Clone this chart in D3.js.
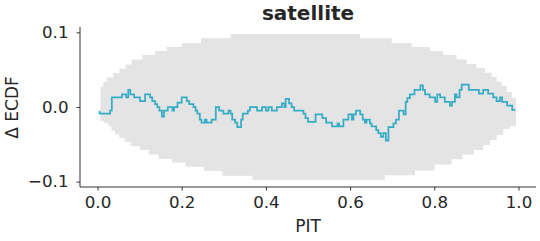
<!DOCTYPE html>
<html>
<head>
<meta charset="utf-8">
<script src="https://cdn.jsdelivr.net/npm/d3@7"></script>
<style>
  html, body { margin: 0; padding: 0; background: #ffffff; }
  svg { display: block; }
  text { font-family: "DejaVu Sans", sans-serif; fill: #262626; }
</style>
</head>
<body>
<div id="chart"></div>
<script>
// ---------------- data ----------------
const chartTitle = "satellite";
const xLabel = "PIT";
const yLabel = "Δ ECDF";

const pitTicks = [0, 0.2, 0.4, 0.6, 0.8, 1.0];
const pitTickLabels = ["0.0", "0.2", "0.4", "0.6", "0.8", "1.0"];
const diffTicks = [-0.1, 0, 0.1];
const diffTickLabels = ["\u22120.1", "0.0", "0.1"];

// simultaneous envelope (upper / lower), step-after
const upperPit = [0.0071,0.0138,0.0219,0.0375,0.0523,0.0665,0.0808,0.1069,0.1366,0.1644,0.2007,0.2458,0.3159,0.6235,0.6988,0.7463,0.7898,0.8214,0.8532,0.8770,0.9002,0.9204,0.9363,0.9482,0.9601,0.9720,0.9838,0.9941];
const upperDiff = [0.0270,0.0335,0.0395,0.0455,0.0515,0.0570,0.0636,0.0696,0.0750,0.0803,0.0857,0.0920,0.0977,0.0920,0.0857,0.0803,0.0750,0.0696,0.0636,0.0576,0.0518,0.0459,0.0402,0.0339,0.0281,0.0201,0.0120,0.0120];
const lowerPit = [0.0071,0.0162,0.0261,0.0333,0.0416,0.0518,0.0646,0.0796,0.1010,0.1216,0.1454,0.1770,0.2090,0.2523,0.2969,0.3682,0.6829,0.7542,0.8005,0.8409,0.8670,0.8943,0.9164,0.9323,0.9482,0.9639,0.9798,0.9941];
const lowerDiff = [-0.0187,-0.0214,-0.0261,-0.0315,-0.0365,-0.0415,-0.0465,-0.0525,-0.0576,-0.0636,-0.0692,-0.0743,-0.0799,-0.0857,-0.0920,-0.0977,-0.0913,-0.0850,-0.0770,-0.0700,-0.0636,-0.0576,-0.0509,-0.0442,-0.0375,-0.0295,-0.0254,-0.0254];

// observed PIT ECDF difference, step-after
const linePit = [0.005,0.005,0.030,0.034,0.058,0.068,0.073,0.078,0.087,0.101,0.113,0.125,0.130,0.137,0.142,0.147,0.153,0.158,0.167,0.178,0.182,0.190,0.200,0.212,0.218,0.228,0.233,0.237,0.243,0.247,0.255,0.259,0.271,0.281,0.289,0.299,0.311,0.316,0.320,0.327,0.332,0.341,0.345,0.357,0.362,0.379,0.391,0.400,0.406,0.414,0.426,0.438,0.444,0.447,0.455,0.461,0.467,0.489,0.494,0.500,0.518,0.534,0.543,0.557,0.570,0.574,0.584,0.596,0.604,0.608,0.614,0.624,0.630,0.635,0.639,0.647,0.651,0.662,0.667,0.673,0.679,0.685,0.691,0.703,0.709,0.716,0.727,0.732,0.736,0.742,0.753,0.767,0.773,0.778,0.789,0.802,0.807,0.814,0.825,0.837,0.842,0.849,0.853,0.860,0.865,0.882,0.906,0.916,0.928,0.940,0.948,0.956,0.961,0.973,0.985,0.992];
const lineDiff = [-0.005,-0.009,-0.005,0.013,0.017,0.013,0.023,0.017,0.013,0.008,0.017,0.013,0.008,0.004,0.000,-0.005,-0.013,-0.005,0.000,-0.005,0.000,0.006,0.013,0.008,0.004,0.000,-0.005,-0.009,-0.017,-0.021,-0.017,-0.021,-0.017,0.000,-0.005,-0.009,-0.005,-0.009,-0.017,-0.021,-0.027,-0.017,-0.009,-0.005,0.000,-0.005,0.000,-0.005,0.000,-0.005,0.000,0.005,0.000,0.011,0.005,0.000,-0.005,-0.009,-0.015,-0.020,-0.010,-0.015,-0.021,-0.026,-0.022,-0.026,-0.017,-0.010,-0.017,-0.010,-0.005,-0.010,-0.017,-0.021,-0.017,-0.022,-0.026,-0.031,-0.035,-0.040,-0.035,-0.045,-0.027,-0.022,-0.017,-0.005,-0.010,0.007,0.012,0.017,0.023,0.029,0.023,0.017,0.013,0.007,0.017,0.013,0.007,0.002,0.007,0.017,0.013,0.023,0.030,0.023,0.018,0.023,0.018,0.013,0.008,0.013,0.007,0.002,-0.004,-0.004];

// ---------------- drawing ----------------
const W = 540, H = 241;
const svg = d3.select("#chart").append("svg").attr("width", W).attr("height", H);

const x = d3.scaleLinear().domain([-0.0416, 1.0416]).range([80, 536]);
const y = d3.scaleLinear().domain([-0.1072, 0.1072]).range([187, 27]);

// envelope table built from the upper / lower arrays
function stepVal(xs, ys, b) {
  let v = ys[0];
  for (let i = 0; i < xs.length; i++) { if (xs[i] <= b + 1e-12) v = ys[i]; }
  return v;
}
const breaks = Array.from(new Set(upperPit.concat(lowerPit))).sort((a, b) => a - b);
const bandTable = breaks.map(b => ({ p: b, hi: stepVal(upperPit, upperDiff, b), lo: stepVal(lowerPit, lowerDiff, b) }));

svg.append("path")
  .datum(bandTable)
  .attr("fill", "#e4e4e4")
  .attr("stroke", "none")
  .attr("d", d3.area().curve(d3.curveStepAfter)
    .x(d => x(d.p)).y0(d => y(d.lo)).y1(d => y(d.hi)));

const lineData = linePit.map((p, i) => ({ p, v: lineDiff[i] }));
svg.append("path")
  .datum(lineData)
  .attr("fill", "none")
  .attr("stroke", "#36acc6")
  .attr("stroke-width", 1.75)
  .attr("stroke-linejoin", "miter")
  .attr("d", d3.line().curve(d3.curveStepAfter).x(d => x(d.p)).y(d => y(d.v)));

// axes
const spineColor = "#333333";
const tickFont = 16.67;
const xAxis = svg.append("g").attr("transform", "translate(0,187)")
  .call(d3.axisBottom(x).tickValues(pitTicks).tickSize(3.5).tickPadding(6)
    .tickFormat((d, i) => pitTickLabels[i]));
xAxis.select(".domain").attr("d", `M80,0H536`).attr("stroke", spineColor);
xAxis.selectAll(".tick line").attr("stroke", spineColor);
xAxis.selectAll(".tick text").attr("font-size", tickFont).attr("fill", "#262626")
  .attr("font-family", "DejaVu Sans");

const yAxis = svg.append("g").attr("transform", "translate(80,0)")
  .call(d3.axisLeft(y).tickValues(diffTicks).tickSize(3.5).tickPadding(8)
    .tickFormat((d, i) => diffTickLabels[i]));
yAxis.select(".domain").attr("d", `M0,27V187`).attr("stroke", spineColor);
yAxis.selectAll(".tick line").attr("stroke", spineColor);
yAxis.selectAll(".tick text").attr("font-size", tickFont).attr("fill", "#262626")
  .attr("font-family", "DejaVu Sans");

// labels
svg.append("text").attr("x", 308).attr("y", 20).attr("text-anchor", "middle")
  .attr("font-size", 20).attr("font-weight", "bold").text(chartTitle);
svg.append("text").attr("x", 308).attr("y", 232).attr("text-anchor", "middle")
  .attr("font-size", 17).text(xLabel);
svg.append("text").attr("transform", "translate(18,107.5) rotate(-90)")
  .attr("text-anchor", "middle").attr("font-size", 17).text(yLabel);
</script>
</body>
</html>
